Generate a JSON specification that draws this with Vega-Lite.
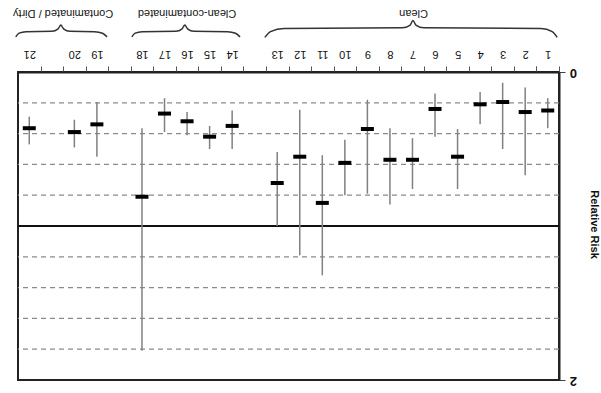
{
  "$schema": "https://vega.github.io/schema/vega-lite/v6.json",
  "width": 541,
  "height": 308,
  "autosize": {"type": "none"},
  "padding": {"left": 18, "top": 72, "right": 42, "bottom": 13},
  "config": {
    "view": {"stroke": "#222", "strokeWidth": 2},
    "font": "Liberation Sans"
  },
  "resolve": {"scale": {"x": "independent", "y": "independent"}},
  "layer": [
    {
      "layer": [
        {
          "data": {"values": [{"g": 0.2}, {"g": 0.4}, {"g": 0.6}, {"g": 0.8}, {"g": 1.2}, {"g": 1.4}, {"g": 1.6}, {"g": 1.8}]},
          "mark": {"type": "rule", "color": "#8a8a8a", "strokeWidth": 1.2, "strokeDash": [5, 4]},
          "encoding": {
            "y": {"field": "g", "type": "quantitative", "scale": {"domain": [0, 2], "reverse": true}, "axis": {"title": "Relative Risk"}}
          }
        },
        {
          "data": {"values": [{"v": 1}]},
          "mark": {"type": "rule", "color": "#111", "strokeWidth": 2},
          "encoding": {
            "y": {"field": "v", "type": "quantitative", "scale": {"domain": [0, 2], "reverse": true}, "axis": {"title": "Relative Risk"}}
          }
        },
        {
          "data": {
            "values": [
              {"cat": "1", "group": "Clean", "rr": 0.25, "lo": 0.17, "hi": 0.365},
              {"cat": "2", "group": "Clean", "rr": 0.26, "lo": 0.10, "hi": 0.67},
              {"cat": "3", "group": "Clean", "rr": 0.195, "lo": 0.07, "hi": 0.50},
              {"cat": "4", "group": "Clean", "rr": 0.21, "lo": 0.13, "hi": 0.34},
              {"cat": "5", "group": "Clean", "rr": 0.55, "lo": 0.37, "hi": 0.76},
              {"cat": "6", "group": "Clean", "rr": 0.24, "lo": 0.14, "hi": 0.42},
              {"cat": "7", "group": "Clean", "rr": 0.57, "lo": 0.43, "hi": 0.76},
              {"cat": "8", "group": "Clean", "rr": 0.57, "lo": 0.365, "hi": 0.86},
              {"cat": "9", "group": "Clean", "rr": 0.37, "lo": 0.18, "hi": 0.79},
              {"cat": "10", "group": "Clean", "rr": 0.59, "lo": 0.44, "hi": 0.80},
              {"cat": "11", "group": "Clean", "rr": 0.85, "lo": 0.54, "hi": 1.32},
              {"cat": "12", "group": "Clean", "rr": 0.55, "lo": 0.245, "hi": 1.19},
              {"cat": "13", "group": "Clean", "rr": 0.72, "lo": 0.52, "hi": 1.0},
              {"cat": "14", "group": "Clean-contaminated", "rr": 0.35, "lo": 0.25, "hi": 0.50},
              {"cat": "15", "group": "Clean-contaminated", "rr": 0.42, "lo": 0.35, "hi": 0.50},
              {"cat": "16", "group": "Clean-contaminated", "rr": 0.32, "lo": 0.26, "hi": 0.41},
              {"cat": "17", "group": "Clean-contaminated", "rr": 0.27, "lo": 0.17, "hi": 0.39},
              {"cat": "18", "group": "Clean-contaminated", "rr": 0.81, "lo": 0.365, "hi": 1.81},
              {"cat": "19", "group": "Contaminated / Dirty", "rr": 0.34, "lo": 0.195, "hi": 0.55},
              {"cat": "20", "group": "Contaminated / Dirty", "rr": 0.39, "lo": 0.31, "hi": 0.49},
              {"cat": "21", "group": "Contaminated / Dirty", "rr": 0.365, "lo": 0.29, "hi": 0.47}
            ]
          },
          "encoding": {
            "x": {
              "field": "cat", "type": "nominal",
              "scale": {
                "domain": ["1","2","3","4","5","6","7","8","9","10","11","12","13","a","14","15","16","17","18","b","19","20","c","21"],
                "reverse": true, "paddingInner": 0, "paddingOuter": 0
              },
              "axis": {
                "orient": "top", "title": null, "labelAngle": 180, "labelAlign": "center", "labelBaseline": "middle",
                "labelPadding": 13, "labelFontSize": 11, "labelColor": "#111",
                "labelExpr": "indexof(['a','b','c'], datum.value) >= 0 ? '' : datum.value",
                "tickSize": 6, "tickBand": "extent", "tickColor": "#555",
                "domainColor": "#222", "domainWidth": 2, "grid": false
              }
            }
          },
          "layer": [
            {
              "mark": {"type": "rule", "color": "#808080", "strokeWidth": 1.5},
              "encoding": {
                "y": {
                  "field": "lo", "type": "quantitative", "scale": {"domain": [0, 2], "reverse": true},
                  "axis": {
                    "orient": "right", "values": [0, 1, 2], "format": "d", "grid": false, "title": "Relative Risk",
                    "labelAngle": 180, "labelAlign": "center", "labelBaseline": "middle",
                    "labelFontWeight": "bold", "labelFontSize": 13, "labelPadding": 8, "labelColor": "#111",
                    "tickSize": 6, "tickColor": "#444", "domainColor": "#222", "domainWidth": 2,
                    "titleAngle": 90, "titleFontWeight": "bold", "titleFontSize": 11, "titleColor": "#111",
                    "titleX": 34, "titleY": 152, "titleAlign": "center", "titleBaseline": "middle"
                  }
                },
                "y2": {"field": "hi"}
              }
            },
            {
              "mark": {"type": "tick", "color": "#000", "opacity": 1, "size": 13, "thickness": 4},
              "encoding": {
                "y": {"field": "rr", "type": "quantitative", "scale": {"domain": [0, 2], "reverse": true}, "axis": {"title": "Relative Risk"}}
              }
            }
          ]
        }
      ]
    },
    {
      "layer": [
        {
          "data": {
            "values": [
              {"brace": "Clean", "i": 0, "s": -0.42, "y": -0.225},
              {"brace": "Clean", "i": 1, "s": -0.2, "y": -0.262},
              {"brace": "Clean", "i": 2, "s": 0.3, "y": -0.283},
              {"brace": "Clean", "i": 3, "s": 5.5, "y": -0.287},
              {"brace": "Clean", "i": 4, "s": 5.85, "y": -0.305},
              {"brace": "Clean", "i": 5, "s": 5.98, "y": -0.335},
              {"brace": "Clean", "i": 6, "s": 6.1, "y": -0.305},
              {"brace": "Clean", "i": 7, "s": 6.45, "y": -0.287},
              {"brace": "Clean", "i": 8, "s": 11.7, "y": -0.283},
              {"brace": "Clean", "i": 9, "s": 12.3, "y": -0.262},
              {"brace": "Clean", "i": 10, "s": 12.55, "y": -0.225},
              {"brace": "CC", "i": 0, "s": 13.65, "y": -0.228},
              {"brace": "CC", "i": 1, "s": 13.85, "y": -0.252},
              {"brace": "CC", "i": 2, "s": 14.2, "y": -0.262},
              {"brace": "CC", "i": 3, "s": 15.7, "y": -0.264},
              {"brace": "CC", "i": 4, "s": 15.98, "y": -0.28},
              {"brace": "CC", "i": 5, "s": 16.1, "y": -0.305},
              {"brace": "CC", "i": 6, "s": 16.22, "y": -0.28},
              {"brace": "CC", "i": 7, "s": 16.5, "y": -0.264},
              {"brace": "CC", "i": 8, "s": 18.0, "y": -0.262},
              {"brace": "CC", "i": 9, "s": 18.3, "y": -0.252},
              {"brace": "CC", "i": 10, "s": 18.45, "y": -0.228},
              {"brace": "CD", "i": 0, "s": 19.55, "y": -0.228},
              {"brace": "CD", "i": 1, "s": 19.75, "y": -0.252},
              {"brace": "CD", "i": 2, "s": 20.1, "y": -0.262},
              {"brace": "CD", "i": 3, "s": 21.2, "y": -0.264},
              {"brace": "CD", "i": 4, "s": 21.48, "y": -0.28},
              {"brace": "CD", "i": 5, "s": 21.6, "y": -0.305},
              {"brace": "CD", "i": 6, "s": 21.72, "y": -0.28},
              {"brace": "CD", "i": 7, "s": 22.0, "y": -0.264},
              {"brace": "CD", "i": 8, "s": 23.15, "y": -0.262},
              {"brace": "CD", "i": 9, "s": 23.45, "y": -0.252},
              {"brace": "CD", "i": 10, "s": 23.6, "y": -0.228}
            ]
          },
          "mark": {"type": "line", "color": "#333", "strokeWidth": 1.5, "interpolate": "monotone"},
          "encoding": {
            "x": {"field": "s", "type": "quantitative", "scale": {"domain": [-0.5, 23.5], "reverse": true, "nice": false, "zero": false}, "axis": null},
            "y": {"field": "y", "type": "quantitative", "scale": {"domain": [0, 2], "reverse": true}, "axis": null},
            "detail": {"field": "brace"},
            "order": {"field": "i"}
          }
        },
        {
          "data": {
            "values": [
              {"label": "Clean", "s": 5.95, "y": -0.384},
              {"label": "Clean-contaminated", "s": 16.0, "y": -0.384},
              {"label": "Contaminated / Dirty", "s": 21.5, "y": -0.384}
            ]
          },
          "mark": {"type": "text", "angle": 180, "align": "center", "baseline": "middle", "fontSize": 11, "color": "#111"},
          "encoding": {
            "x": {"field": "s", "type": "quantitative", "scale": {"domain": [-0.5, 23.5], "reverse": true, "nice": false, "zero": false}, "axis": null},
            "y": {"field": "y", "type": "quantitative", "scale": {"domain": [0, 2], "reverse": true}, "axis": null},
            "text": {"field": "label"}
          }
        }
      ]
    }
  ]
}
